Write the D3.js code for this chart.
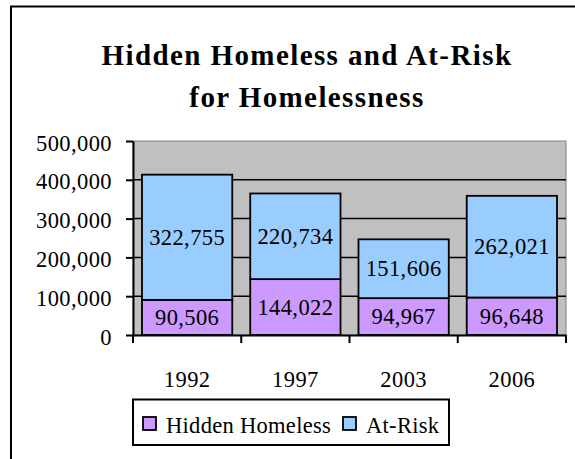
<!DOCTYPE html>
<html>
<head>
<meta charset="utf-8">
<script src="https://cdn.jsdelivr.net/npm/d3@7"></script>
<style>
  html, body { margin: 0; padding: 0; background: #fff; }
  svg { display: block; }
  text { font-family: "Liberation Serif", "DejaVu Serif", serif; fill: #000; }
</style>
</head>
<body>
<svg id="chart" width="575" height="459"></svg>
<script>
// Survey years and the two stacked series
const years = ["1992", "1997", "2003", "2006"];
const hiddenHomeless = [90506, 144022, 94967, 96648];
const atRisk = [322755, 220734, 151606, 262021];
const seriesNames = ["Hidden Homeless", "At-Risk"];
const seriesColors = ["#CC99FF", "#99CCFF"];
const yTicks = [0, 100000, 200000, 300000, 400000, 500000];
const titleLines = ["Hidden Homeless and At-Risk", "for Homelessness"];

const svg = d3.select("#chart");
const plot = { left: 133, right: 566, top: 141, bottom: 335 };
const fmt = d3.format(",");
const labelFont = 22.5;

// Outer chart frame
svg.append("rect")
  .attr("x", 11).attr("y", 6.5).attr("width", 700).attr("height", 600)
  .attr("fill", "none").attr("stroke", "#000").attr("stroke-width", 2);

// Title
svg.append("g").selectAll("text").data(titleLines).join("text")
  .attr("x", 307).attr("y", (d, i) => 65 + i * 42)
  .attr("text-anchor", "middle")
  .attr("font-size", 29).attr("font-weight", "bold")
  .attr("letter-spacing", 1.4)
  .text(d => d);

const x = d3.scaleBand().domain(years)
  .range([plot.left, plot.right])
  .paddingInner(0.166).paddingOuter(0.083);
const y = d3.scaleLinear().domain([0, 500000]).range([plot.bottom, plot.top]);

// Plot background
svg.append("rect")
  .attr("x", plot.left).attr("y", plot.top)
  .attr("width", plot.right - plot.left).attr("height", plot.bottom - plot.top)
  .attr("fill", "#C0C0C0").attr("stroke", "#808080").attr("stroke-width", 1);

// Horizontal gridlines
svg.append("g").selectAll("line").data(yTicks.filter(t => t > 0 && t < 500000)).join("line")
  .attr("x1", plot.left).attr("x2", plot.right)
  .attr("y1", d => y(d)).attr("y2", d => y(d))
  .attr("stroke", "#000").attr("stroke-width", 1.5);

// Stacked bars
const rows = years.map((yr, i) => ({ year: yr, "Hidden Homeless": hiddenHomeless[i], "At-Risk": atRisk[i] }));
const stacked = d3.stack().keys(seriesNames)(rows);

const layers = svg.append("g").selectAll("g").data(stacked).join("g")
  .attr("fill", (d, i) => seriesColors[i]);

layers.selectAll("rect").data(d => d).join("rect")
  .attr("x", d => x(d.data.year))
  .attr("y", d => y(d[1]))
  .attr("width", x.bandwidth())
  .attr("height", d => y(d[0]) - y(d[1]))
  .attr("stroke", "#000").attr("stroke-width", 1.8);

// Value labels centred in each segment
layers.selectAll("text").data(d => d).join("text")
  .attr("x", d => x(d.data.year) + x.bandwidth() / 2)
  .attr("y", d => (y(d[0]) + y(d[1])) / 2 + 7.5)
  .attr("text-anchor", "middle")
  .attr("font-size", labelFont).attr("letter-spacing", 0.4)
  .attr("fill", "#000")
  .text(d => fmt(d[1] - d[0]));

// Y axis
const yAxis = svg.append("g")
  .attr("transform", `translate(${plot.left},0)`)
  .call(d3.axisLeft(y).tickValues(yTicks).tickFormat(fmt).tickSize(7).tickSizeOuter(0).tickPadding(14));
yAxis.select(".domain").attr("stroke", "#000").attr("stroke-width", 2);
yAxis.selectAll(".tick line").attr("stroke", "#000").attr("stroke-width", 2);
yAxis.selectAll(".tick text")
  .attr("font-family", "Liberation Serif, serif")
  .attr("font-size", labelFont).attr("letter-spacing", 0.4)
  .attr("dy", "0.4em").attr("fill", "#000");

// X axis with ticks between categories
const xAxis = svg.append("g")
  .attr("transform", `translate(0,${plot.bottom})`)
  .call(d3.axisBottom(x).tickSize(0).tickPadding(36));
xAxis.select(".domain").attr("stroke", "#000").attr("stroke-width", 2);
xAxis.selectAll(".tick text")
  .attr("font-family", "Liberation Serif, serif")
  .attr("font-size", labelFont).attr("letter-spacing", 0.4)
  .attr("fill", "#000");
const bounds = years.map(d => x(d) - x.step() * x.paddingInner() / 2).concat([plot.right]);
xAxis.append("g").selectAll("line").data(bounds).join("line")
  .attr("x1", d => d).attr("x2", d => d)
  .attr("y1", 0).attr("y2", 8)
  .attr("stroke", "#000").attr("stroke-width", 2);

// Legend
const legend = svg.append("g");
legend.append("rect")
  .attr("x", 133).attr("y", 399.5).attr("width", 316).attr("height", 45.5)
  .attr("fill", "#fff").attr("stroke", "#000").attr("stroke-width", 2);
const legendX = [143, 343];
const items = legend.selectAll("g.item").data(seriesNames).join("g")
  .attr("class", "item")
  .attr("transform", (d, i) => `translate(${legendX[i]},417)`);
items.append("rect")
  .attr("width", 13).attr("height", 13)
  .attr("fill", (d, i) => seriesColors[i])
  .attr("stroke", "#000").attr("stroke-width", 1.8);
items.append("text")
  .attr("x", 23).attr("y", 16)
  .attr("font-size", labelFont).attr("letter-spacing", 0.3)
  .text(d => d);
</script>
</body>
</html>
